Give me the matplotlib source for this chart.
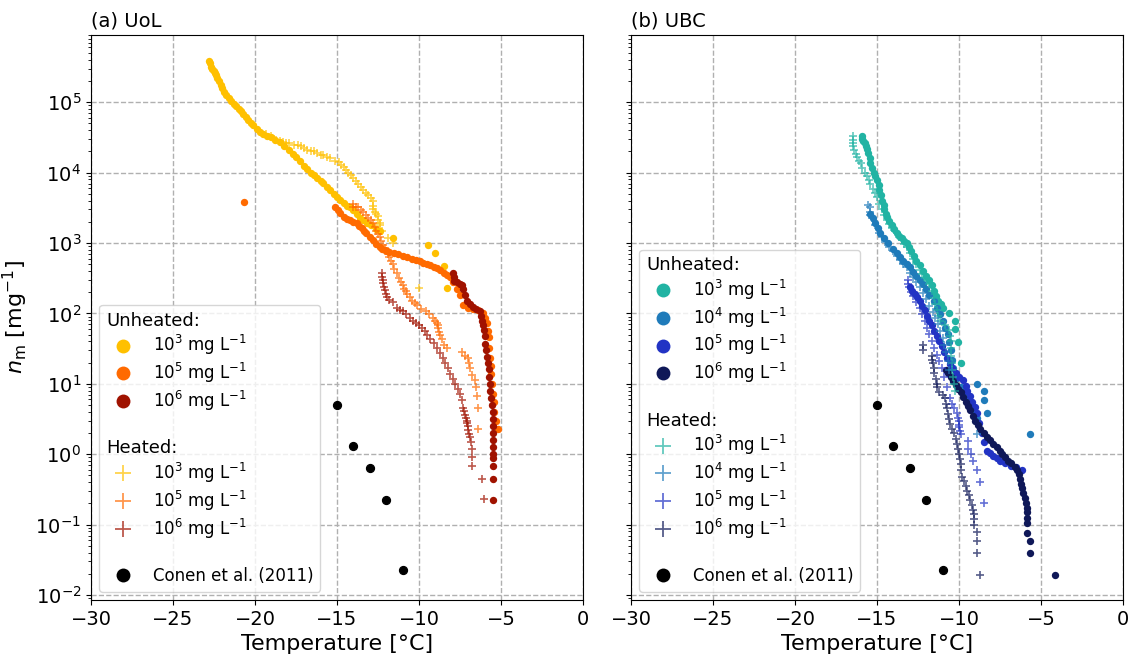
import matplotlib
matplotlib.use("Agg")
import matplotlib.pyplot as plt
from matplotlib.lines import Line2D

# ---- UoL (panel a) ----
uol_u3_T = [-22.8, -22.75, -22.7, -22.6, -22.5, -22.45, -22.4, -22.3, -22.2, -22.1,
            -22.0, -21.9, -21.75, -21.6, -21.45, -21.3, -21.15, -21.0, -20.85, -20.7,
            -20.55, -20.4, -20.25, -20.1, -19.9, -19.7, -19.5, -19.25, -19.0, -18.75,
            -18.5, -18.2, -17.9, -17.7, -17.5, -17.25, -17.0, -16.8, -16.6, -16.4,
            -16.2, -16.0, -15.85, -15.6, -15.4, -15.2, -15.0, -14.8, -14.6, -14.4,
            -14.2, -14.0, -13.8, -13.6, -13.4, -13.15, -12.9, -12.65, -12.4, -11.6,
            -9.45, -9.0, -8.5, -8.3]
uol_u3_n = [3.8e5, 3.55e5, 3.16e5, 2.95e5, 2.8e5, 2.6e5, 2.4e5, 2.2e5, 2.0e5, 1.78e5,
            1.58e5, 1.41e5, 1.26e5, 1.15e5, 1.05e5, 9.5e4, 8.7e4, 7.9e4, 7.4e4, 6.8e4,
            6.2e4, 5.6e4, 5.1e4, 4.7e4, 4.2e4, 3.8e4, 3.5e4, 3.3e4, 3.2e4, 2.95e4,
            2.7e4, 2.4e4, 2.1e4, 1.86e4, 1.66e4, 1.45e4, 1.26e4, 1.12e4, 1.0e4, 9.1e3,
            8.3e3, 7.6e3, 7.1e3, 6.3e3, 5.6e3, 5.0e3, 4.5e3, 4.1e3, 3.7e3, 3.4e3,
            3.2e3, 2.9e3, 2.6e3, 2.3e3, 2.1e3, 1.9e3, 1.8e3, 1.6e3, 1.5e3, 1.17e3,
            950, 710, 470, 230]

uol_u5_T = [-20.67, -15.1, -14.95, -14.8, -14.6, -14.4, -14.2, -14.0, -13.8, -13.65,
            -13.5, -13.35, -13.2, -13.0, -12.8, -12.6, -12.4, -12.25, -12.1, -11.95,
            -11.8, -11.55, -11.3, -11.0, -10.7, -10.45, -10.2, -9.95, -9.75, -9.5,
            -9.3, -9.1, -8.9, -8.7, -8.5, -8.3, -8.1, -7.9, -7.7, -7.5,
            -7.3, -7.0, -6.7, -6.4, -6.1, -5.95, -5.85, -5.8, -5.75, -5.7,
            -5.67, -5.62, -5.58, -5.55, -5.5, -5.45, -5.4, -5.3, -5.2]
uol_u5_n = [3.8e3, 3.2e3, 2.95e3, 2.7e3, 2.35e3, 2.2e3, 2.1e3, 2.0e3, 1.9e3, 1.74e3,
            1.62e3, 1.48e3, 1.38e3, 1.23e3, 1.1e3, 980, 870, 830, 790, 760,
            740, 710, 690, 660, 630, 600, 575, 550, 525, 500,
            480, 460, 440, 410, 380, 355, 325, 275, 225, 180,
            130, 120, 115, 112, 100, 87, 72, 56, 46, 32,
            23, 18, 14, 10, 7.1, 5.6, 4.0, 3.0, 2.3]

uol_u6_T = [-7.9, -7.88, -7.85, -7.7, -7.5, -7.4, -7.3, -7.2, -7.1, -6.9,
            -6.7, -6.5, -6.3, -6.2, -6.15, -6.1, -6.05, -6.0, -5.95, -5.9,
            -5.85, -5.8, -5.75, -5.7, -5.67, -5.65, -5.6, -5.55, -5.5, -5.5,
            -5.5, -5.5, -5.5, -5.5, -5.5, -5.5, -5.5, -5.5, -5.5]
uol_u6_n = [370, 330, 290, 275, 265, 250, 225, 185, 150, 135,
            125, 117, 107, 93, 79, 68, 58, 47, 37, 30,
            24, 20, 16, 12.6, 10, 7.9, 6.3, 5.0, 4.0, 3.2,
            2.5, 2.0, 1.6, 1.26, 1.0, 0.89, 0.69, 0.45, 0.22]

uol_h3_T = [-19.3, -19.0, -18.7, -18.5, -18.3, -18.1, -17.9, -17.65, -17.4, -17.2,
            -17.0, -16.8, -16.6, -16.4, -16.2, -16.0, -15.85, -15.6, -15.4, -15.15,
            -14.9, -14.75, -14.6, -14.45, -14.3, -14.15, -14.0, -13.85, -13.7, -13.55,
            -13.4, -13.25, -13.1, -12.95, -12.8, -12.8, -12.8, -12.7, -12.6, -12.5,
            -12.5, -12.4, -12.35, -12.25, -11.9, -11.6, -10.0]
uol_h3_n = [3.5e4, 3.3e4, 2.9e4, 2.8e4, 2.75e4, 2.6e4, 2.6e4, 2.5e4, 2.45e4, 2.35e4,
            2.2e4, 2.1e4, 2.0e4, 2.0e4, 1.9e4, 1.8e4, 1.8e4, 1.66e4, 1.6e4, 1.48e4,
            1.4e4, 1.29e4, 1.2e4, 1.1e4, 1.0e4, 9.3e3, 8.5e3, 7.6e3, 6.9e3, 6.3e3,
            5.6e3, 5.2e3, 4.8e3, 4.4e3, 4.0e3, 3.4e3, 3.0e3, 2.8e3, 2.6e3, 2.45e3,
            2.1e3, 1.95e3, 1.8e3, 1.5e3, 1.17e3, 1.0e3, 230]

uol_h5_T = [-14.0, -14.0, -13.85, -13.7, -13.55, -13.4, -13.25, -13.1, -12.95, -12.8,
            -12.7, -12.6, -12.5, -12.4, -12.3, -12.2, -12.1, -12.0, -11.9, -11.8,
            -11.7, -11.6, -11.5, -11.35, -11.2, -11.1, -11.0, -10.9, -10.8, -10.7,
            -10.55, -10.4, -10.25, -10.1, -9.85, -9.6, -9.4, -9.15, -9.0, -8.9,
            -8.85, -8.85, -8.8, -8.7, -8.6, -8.45, -8.3, -7.4, -7.2, -7.0,
            -6.95, -6.9, -6.75, -6.6, -6.5, -6.46, -6.4, -6.4]
uol_h5_n = [3.6e3, 3.2e3, 3.2e3, 3.2e3, 2.95e3, 2.75e3, 2.5e3, 2.3e3, 2.1e3, 1.9e3,
            1.7e3, 1.5e3, 1.35e3, 1.2e3, 1.07e3, 950, 850, 760, 690, 630,
            560, 500, 430, 370, 320, 280, 250, 225, 205, 190,
            170, 150, 140, 130, 117, 107, 98, 87, 79, 74,
            68, 63, 55, 50, 43, 36, 32, 28, 25, 23,
            19.5, 16.6, 13.5, 11.2, 8.9, 6.8, 4.6, 2.3]

uol_h6_T = [-12.25, -12.25, -12.22, -12.2, -12.15, -12.1, -12.0, -11.95, -11.8, -11.6,
            -11.35, -11.15, -11.0, -10.8, -10.55, -10.35, -10.2, -10.0, -9.8, -9.65,
            -9.5, -9.3, -9.1, -8.9, -8.7, -8.55, -8.4, -8.25, -8.1, -7.95,
            -7.8, -7.65, -7.5, -7.4, -7.3, -7.25, -7.2, -7.12, -7.07, -7.05,
            -7.02, -7.0, -6.95, -6.9, -6.85, -6.77, -6.77, -6.77, -6.15, -6.03]
uol_h6_n = [380, 330, 295, 270, 240, 215, 190, 170, 155, 145,
            120, 112, 107, 98, 87, 79, 74, 69, 63, 56,
            50, 44, 38, 32, 27, 23, 20, 16.6, 13.8, 11.7,
            10, 8.5, 7.2, 5.8, 4.6, 4.1, 3.6, 3.3, 3.0, 2.75,
            2.5, 2.2, 1.95, 1.74, 1.51, 1.2, 0.91, 0.69, 0.45, 0.23]

# ---- UBC (panel b) ----
ubc_u3_T = [-15.9, -15.9, -15.85, -15.75, -15.7, -15.6, -15.55, -15.45, -15.4, -15.3,
            -15.2, -15.1, -15.0, -14.9, -14.85, -14.75, -14.7, -14.6, -14.55, -14.45,
            -14.4, -14.25, -14.1, -13.95, -13.8, -13.65, -13.5, -13.35, -13.2, -13.05,
            -12.9, -12.75, -12.6, -12.4, -12.2, -12.0, -11.8, -11.65, -11.55, -11.4,
            -11.3, -11.1, -10.95, -10.6, -10.25, -10.25, -10.05, -9.9]
ubc_u3_n = [3.3e4, 3.0e4, 2.8e4, 2.6e4, 2.4e4, 2.15e4, 1.9e4, 1.6e4, 1.35e4, 1.17e4,
            1.0e4, 8.9e3, 7.8e3, 6.6e3, 5.6e3, 4.8e3, 4.0e3, 3.5e3, 3.0e3, 2.6e3,
            2.35e3, 2.05e3, 1.78e3, 1.58e3, 1.38e3, 1.26e3, 1.17e3, 1.07e3, 1.0e3, 870,
            760, 660, 560, 480, 400, 340, 295, 250, 210, 178,
            150, 135, 120, 100, 79, 60, 39, 19.5]

ubc_u4_T = [-15.4, -15.25, -15.1, -14.95, -14.8, -14.55, -14.3, -14.05, -13.8, -13.6,
            -13.4, -13.2, -13.0, -12.8, -12.6, -12.4, -12.2, -12.0, -11.8, -11.55,
            -11.35, -11.15, -11.0, -10.85, -10.7, -10.6, -10.5, -10.4, -10.35, -10.2,
            -10.1, -9.9, -9.75, -9.6, -9.45, -9.3, -9.1, -8.9, -8.9, -8.5,
            -8.5, -8.3, -5.67]
ubc_u4_n = [2.6e3, 2.25e3, 1.9e3, 1.62e3, 1.38e3, 1.17e3, 1.0e3, 830, 710, 630,
            560, 500, 450, 390, 340, 300, 260, 220, 180, 148,
            120, 98, 79, 63, 51, 39, 30, 22, 17, 14,
            12, 8.9, 7.8, 6.8, 6.0, 5.2, 4.2, 3.3, 10, 7.8,
            5.9, 3.9, 1.95]

ubc_u5_T = [-13.0, -12.85, -12.7, -12.55, -12.4, -12.25, -12.1, -11.95, -11.8, -11.65,
            -11.5, -11.35, -11.2, -11.05, -10.9, -10.75, -10.55, -10.4, -10.2, -10.0,
            -9.76, -9.6, -9.5, -9.35, -9.2, -9.05, -8.9, -8.75, -8.6, -8.45,
            -8.3, -8.1, -7.9, -7.7, -7.5, -7.2, -6.8, -6.5, -6.16]
ubc_u5_n = [234, 209, 190, 170, 151, 129, 110, 93, 79, 68,
            56, 48, 41, 34, 28, 23, 19, 16.6, 14.1, 12.6,
            11.2, 9.3, 7.9, 6.8, 5.6, 4.7, 3.8, 2.75, 2.0, 1.48,
            1.12, 1.05, 0.95, 0.89, 0.81, 0.76, 0.69, 0.65, 0.59]

ubc_u6_T = [-10.8, -10.65, -10.5, -10.35, -10.2, -10.05, -9.9, -9.75, -9.6, -9.45,
            -9.3, -9.15, -9.0, -8.85, -8.7, -8.5, -8.3, -8.1, -7.9, -7.7,
            -7.5, -7.35, -7.2, -7.0, -6.8, -6.6, -6.45, -6.35, -6.3, -6.2,
            -6.16, -6.08, -6.0, -5.92, -5.85, -5.85, -5.85, -5.85, -5.85, -5.67,
            -5.67, -4.15]
ubc_u6_n = [15.8, 14.1, 12.6, 11, 9.5, 8.5, 7.6, 6.5, 5.6, 4.8,
            4.2, 3.5, 3.0, 2.6, 2.3, 2.0, 1.78, 1.58, 1.41, 1.26,
            1.12, 1.0, 0.91, 0.81, 0.74, 0.66, 0.59, 0.52, 0.45, 0.38,
            0.33, 0.28, 0.24, 0.2, 0.17, 0.15, 0.126, 0.107, 0.076, 0.058,
            0.039, 0.0195]

ubc_h3_T = [-16.46, -16.46, -16.46, -16.46, -16.4, -16.3, -16.2, -16.1, -16.0, -15.9,
            -15.75, -15.6, -15.5, -15.4, -15.25, -15.1, -15.0, -14.85, -14.7, -14.55,
            -14.4, -14.25, -14.1, -13.95, -13.8, -13.65, -13.5, -13.35, -13.2, -13.0,
            -12.8, -12.6, -12.4, -12.25, -12.1, -11.95, -11.8, -11.65, -11.55, -11.45,
            -11.35, -11.25, -11.15, -10.85, -10.6, -10.55, -10.5, -10.5, -10.5, -10.45,
            -10.4, -10.35, -10.3, -10.25]
ubc_h3_n = [3.3e4, 2.95e4, 2.6e4, 2.35e4, 2.1e4, 1.86e4, 1.66e4, 1.48e4, 1.35e4, 1.17e4,
            1.0e4, 8.9e3, 7.8e3, 6.8e3, 5.9e3, 5.1e3, 4.5e3, 3.6e3, 3.0e3, 2.5e3,
            2.1e3, 1.86e3, 1.66e3, 1.51e3, 1.38e3, 1.23e3, 1.1e3, 980, 870, 720,
            600, 500, 410, 360, 320, 295, 260, 210, 165, 135,
            110, 93, 79, 68, 58, 48, 40, 32, 25, 20,
            15.5, 12.6, 10, 7.9]

ubc_h4_T = [-15.55, -15.45, -15.4, -15.4, -15.3, -15.15, -14.9, -14.7, -14.5, -14.25,
            -14.0, -13.8, -13.6, -13.4, -13.2, -13.0, -12.8, -12.6, -12.4, -12.2,
            -12.0, -11.8, -11.6, -11.45, -11.3, -11.15, -11.0, -10.9, -10.8, -10.7,
            -10.6, -8.9]
ubc_h4_n = [3.5e3, 3.2e3, 2.8e3, 2.5e3, 2.25e3, 1.78e3, 1.4e3, 1.2e3, 1.05e3, 890,
            760, 660, 575, 500, 450, 380, 330, 280, 240, 195,
            158, 129, 105, 87, 71, 56, 45, 35, 28, 21,
            15.8, 1.95]

ubc_h5_T = [-13.1, -13.1, -13.05, -12.9, -12.8, -12.6, -12.4, -12.25, -12.1, -11.95,
            -11.8, -11.65, -11.5, -11.35, -11.2, -11.05, -10.9, -10.75, -10.55, -10.4,
            -10.3, -10.15, -10.05, -10.0, -10.0, -10.0, -9.95, -9.9, -9.45, -9.45,
            -9.27, -9.15, -8.9, -8.7, -8.5]
ubc_h5_n = [295, 260, 240, 200, 178, 145, 120, 98, 79, 63,
            51, 41, 32, 26, 21, 16.6, 12.6, 8.9, 6.3, 5.2,
            4.5, 3.8, 3.3, 2.95, 2.6, 2.4, 2.15, 1.95, 1.55, 1.17,
            1.0, 0.79, 0.59, 0.4, 0.2]

ubc_h6_T = [-12.2, -12.2, -11.65, -11.62, -11.6, -11.55, -11.5, -11.42, -11.35, -11.35,
            -11.2, -11.0, -10.85, -10.8, -10.75, -10.65, -10.6, -10.55, -10.45, -10.3,
            -10.2, -10.1, -10.05, -10.0, -9.95, -9.9, -9.85, -9.8, -9.7, -9.6,
            -9.5, -9.4, -9.3, -9.2, -9.15, -9.1, -9.1, -9.1, -8.9, -8.9,
            -8.9, -8.7]
ubc_h6_n = [35, 30, 25, 22, 20, 16.6, 14.1, 11.7, 10, 8.9,
            7.6, 6.9, 6.3, 5.2, 4.5, 3.7, 3.2, 2.7, 2.3, 2.0,
            1.66, 1.41, 1.2, 1.0, 0.85, 0.72, 0.6, 0.47, 0.42, 0.35,
            0.3, 0.26, 0.22, 0.19, 0.16, 0.14, 0.12, 0.1, 0.078, 0.058,
            0.039, 0.0195]

# Conen et al. (2011), shown in both panels
conen_T = [-15, -14, -13, -12, -11]
conen_n = [5.0, 1.3, 0.63, 0.22, 0.023]

conc_uol = ["10$^{3}$ mg L$^{-1}$", "10$^{5}$ mg L$^{-1}$", "10$^{6}$ mg L$^{-1}$"]
conc_ubc = ["10$^{3}$ mg L$^{-1}$", "10$^{4}$ mg L$^{-1}$",
            "10$^{5}$ mg L$^{-1}$", "10$^{6}$ mg L$^{-1}$"]

col_uol = ["#FFC000", "#FF6A00", "#A01200"]
col_ubc = ["#21B3A3", "#1F7BBA", "#2233C4", "#0F1858"]

uol_unheated = [(uol_u3_T, uol_u3_n), (uol_u5_T, uol_u5_n), (uol_u6_T, uol_u6_n)]
uol_heated = [(uol_h3_T, uol_h3_n), (uol_h5_T, uol_h5_n), (uol_h6_T, uol_h6_n)]
ubc_unheated = [(ubc_u3_T, ubc_u3_n), (ubc_u4_T, ubc_u4_n),
                (ubc_u5_T, ubc_u5_n), (ubc_u6_T, ubc_u6_n)]
ubc_heated = [(ubc_h3_T, ubc_h3_n), (ubc_h4_T, ubc_h4_n),
              (ubc_h5_T, ubc_h5_n), (ubc_h6_T, ubc_h6_n)]

plt.rcParams["font.size"] = 14
plt.rcParams["mathtext.default"] = "regular"

fig, (ax1, ax2) = plt.subplots(1, 2, figsize=(11.3, 6.57), dpi=100, sharey=True)
fig.subplots_adjust(left=0.0805, right=0.9938, bottom=0.0868, top=0.9467, wspace=0.0976)

HEADERS = ["Unheated:", "Heated:"]


def fix_headers(leg):
    # header rows have no marker: drop the handle box and its gap,
    # spacer rows only keep the text height
    for vp in leg._legend_handle_box.get_children():
        for hp in vp.get_children():
            area, txt = hp.get_children()
            label = txt.get_text()
            if label in HEADERS:
                area.set_width(0)
                hp.sep = 0
                txt._text.set_fontsize(13)
            elif label == "":
                area.height = 0
                txt._text.set_fontsize(14)


def draw_panel(ax, unheated, heated, colors, labels, title):
    for (T, n), c in zip(unheated, colors):
        ax.scatter(T, n, s=28, color=c, marker="o", linewidths=0, zorder=3)
    for (T, n), c in zip(heated, colors):
        ax.scatter(T, n, s=34, color=c, marker="+", linewidths=1.2, alpha=0.7, zorder=4)
    ax.scatter(conen_T, conen_n, s=32, color="black", zorder=5)

    ax.set_yscale("log")
    ax.set_xlim(-30, 0)
    ax.set_ylim(0.0085, 9e5)
    ax.set_xticks([-30, -25, -20, -15, -10, -5, 0])
    ax.grid(True, which="major", linestyle="--", color="#b0b0b0", linewidth=1)
    ax.set_axisbelow(True)
    ax.set_xlabel("Temperature [°C]", fontsize=16)
    ax.set_title(title, loc="left", fontsize=14)

    blank = Line2D([], [], linestyle="none", marker="")
    handles = [blank]
    names = ["Unheated:"]
    for c, lab in zip(colors, labels):
        handles.append(Line2D([], [], linestyle="none", marker="o", markersize=10,
                              color=c, markeredgewidth=0))
        names.append(lab)
    handles.append(blank)
    names.append("")
    handles.append(blank)
    names.append("Heated:")
    for c, lab in zip(colors, labels):
        handles.append(Line2D([], [], linestyle="none", marker="+", markersize=12,
                              markeredgewidth=1.3, color=c, alpha=0.7))
        names.append(lab)
    handles.append(blank)
    names.append("")
    handles.append(Line2D([], [], linestyle="none", marker="o", markersize=10,
                          color="black", markeredgewidth=0))
    names.append("Conen et al. (2011)")

    leg = ax.legend(handles, names, loc="lower left", fontsize=12, labelspacing=0.22)
    fix_headers(leg)


draw_panel(ax1, uol_unheated, uol_heated, col_uol, conc_uol, "(a) UoL")
draw_panel(ax2, ubc_unheated, ubc_heated, col_ubc, conc_ubc, "(b) UBC")

ax1.set_ylabel("$\\mathit{n}_\\mathrm{m}$ [mg$^{-1}$]", fontsize=16)

fig.savefig("out.png", dpi=100)
